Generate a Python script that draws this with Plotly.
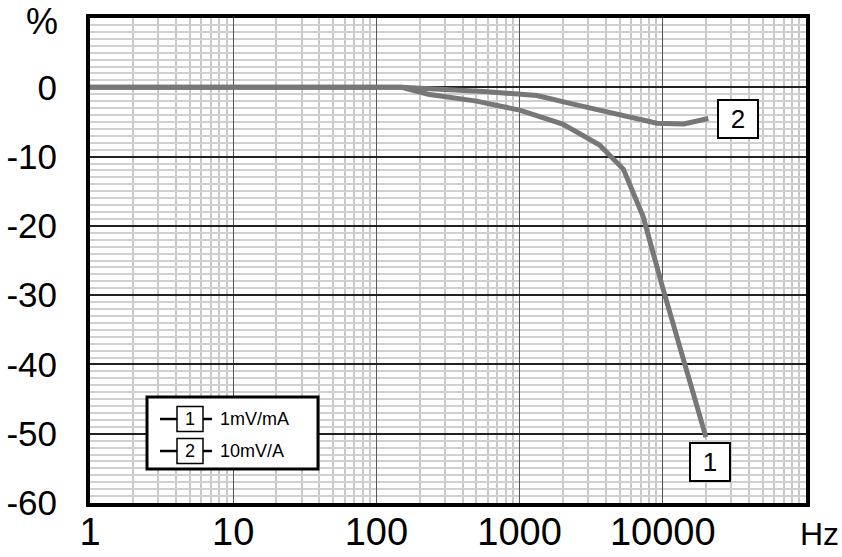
import math
import plotly.graph_objects as go

# ---- data ----
freq_1 = [1, 10, 100, 150, 230, 500, 1000, 2000, 3600, 5300, 7300, 10000, 20000]
dev_1 = [0, 0, 0, 0, -1.0, -2.0, -3.3, -5.3, -8.3, -11.8, -18.7, -29.0, -50.5]

freq_2 = [1, 10, 100, 150, 560, 1320, 2450, 5000, 9100, 14000, 20800]
dev_2 = [0, 0, 0, 0, -0.6, -1.2, -2.5, -4.0, -5.2, -5.3, -4.5]

x_ticks = [1, 10, 100, 1000, 10000]
x_tick_labels = ["1", "10", "100", "1000", "10000"]
y_ticks = [0, -10, -20, -30, -40, -50, -60]
y_tick_labels = ["0", "-10", "-20", "-30", "-40", "-50", "-60"]
legend_labels = ["1mV/mA", "10mV/A"]
curve_ids = ["1", "2"]

# minor gridlines at 2..9 of each decade
minor_x = [m * 10 ** d for d in range(0, 5) for m in range(2, 10)]

W, H = 842, 557
ML, MR, MT, MB = 90, 36, 18, 54
PW, PH = W - ML - MR, H - MT - MB

def px(x):
    return (x - ML) / PW

def py(y):
    return (H - MB - y) / PH

FONT_N = "Liberation Sans, Arial, sans-serif"
FONT_R = "Liberation Sans, Arial, sans-serif"
LINE_C = "#777777"

fig = go.Figure()
fig.add_trace(go.Scatter(x=freq_1, y=dev_1, mode="lines",
                         line=dict(color=LINE_C, width=5), showlegend=False))
fig.add_trace(go.Scatter(x=freq_2, y=dev_2, mode="lines",
                         line=dict(color=LINE_C, width=5), showlegend=False))

shapes = []
annotations = []

# legend box
shapes.append(dict(type="rect", xref="paper", yref="paper",
                   x0=px(147), x1=px(318), y0=py(469), y1=py(397),
                   line=dict(color="black", width=3), fillcolor="white", layer="above"))
row_y = [419, 451]
for i, (cid, lab) in enumerate(zip(curve_ids, legend_labels)):
    yy = row_y[i]
    shapes.append(dict(type="line", xref="paper", yref="paper",
                       x0=px(160), x1=px(177), y0=py(yy), y1=py(yy),
                       line=dict(color="black", width=2.5), layer="above"))
    shapes.append(dict(type="line", xref="paper", yref="paper",
                       x0=px(203), x1=px(212), y0=py(yy), y1=py(yy),
                       line=dict(color="black", width=2.5), layer="above"))
    shapes.append(dict(type="rect", xref="paper", yref="paper",
                       x0=px(177), x1=px(203), y0=py(yy + 12.5), y1=py(yy - 12.5),
                       line=dict(color="black", width=1.5), fillcolor="white", layer="above"))
    annotations.append(dict(xref="paper", yref="paper", x=px(190), y=py(yy),
                            text=cid, showarrow=False, xanchor="center", yanchor="middle",
                            font=dict(family=FONT_R, size=18, color="black")))
    annotations.append(dict(xref="paper", yref="paper", x=px(218), y=py(yy),
                            text=lab, showarrow=False, xanchor="left", yanchor="middle",
                            font=dict(family=FONT_R, size=18, color="black")))

# curve labels
label_pos = {"1": (21350, -54.1), "2": (33300, -4.56)}
for cid in curve_ids:
    lx, ly = label_pos[cid]
    annotations.append(dict(x=math.log10(lx), y=ly, xref="x", yref="y",
                            text=cid, showarrow=False, xanchor="center", yanchor="middle",
                            width=36, height=34, bgcolor="white", bordercolor="black",
                            borderwidth=2, borderpad=1,
                            font=dict(family=FONT_N, size=26, color="black")))

# axis units
annotations.append(dict(xref="paper", yref="paper", x=px(60), y=py(22), text="%",
                        showarrow=False, xanchor="right", yanchor="middle",
                        font=dict(family=FONT_N, size=36, color="black")))
annotations.append(dict(xref="paper", yref="paper", x=px(841), y=py(534), text="Hz",
                        showarrow=False, xanchor="right", yanchor="middle",
                        font=dict(family=FONT_N, size=32, color="black")))

fig.update_layout(
    width=W, height=H,
    margin=dict(l=ML, r=MR, t=MT, b=MB, autoexpand=False),
    paper_bgcolor="white", plot_bgcolor="white",
    shapes=shapes, annotations=annotations,
    xaxis=dict(type="log", range=[0, 5], tickvals=x_ticks, ticktext=x_tick_labels,
               showgrid=True, gridcolor="#555555", gridwidth=1.2,
               minor=dict(tickvals=minor_x, showgrid=True, gridcolor="#c8c8c8", gridwidth=1.5),
               showline=True, linecolor="black", linewidth=4, mirror=True,
               ticks="", ticklabelstandoff=-8, zeroline=False, automargin=False,
               tickfont=dict(family=FONT_N, size=38, color="black")),
    yaxis=dict(range=[-60, 10], tickvals=y_ticks, ticktext=y_tick_labels,
               showgrid=True, gridcolor="#222222", gridwidth=2.2,
               minor=dict(dtick=1, showgrid=True, gridcolor="#d0d0d0", gridwidth=1.5),
               showline=True, linecolor="black", linewidth=4, mirror=True,
               ticks="", ticklabelstandoff=22, zeroline=False, automargin=False,
               tickfont=dict(family=FONT_N, size=35, color="black")),
)

fig.write_html("out.html",
               config={"displayModeBar": False},
               post_script="document.body.style.margin='0';document.body.style.overflow='hidden';")
